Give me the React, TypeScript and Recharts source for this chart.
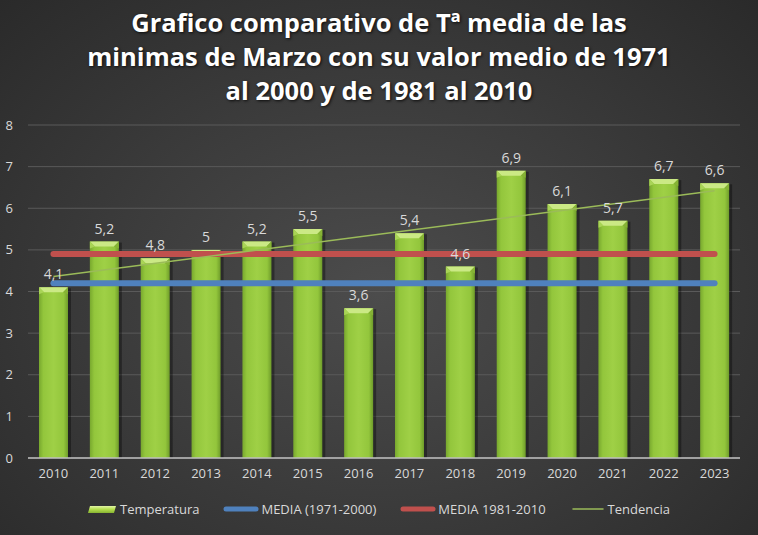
import React from "react";
import {
  ComposedChart,
  Bar,
  Line,
  XAxis,
  YAxis,
  CartesianGrid,
  Legend,
  LabelList,
} from "recharts";

const years = ["2010", "2011", "2012", "2013", "2014", "2015", "2016", "2017", "2018", "2019", "2020", "2021", "2022", "2023"];
const temperatura = [4.1, 5.2, 4.8, 5, 5.2, 5.5, 3.6, 5.4, 4.6, 6.9, 6.1, 5.7, 6.7, 6.6];
const media7100 = [4.2, 4.2, 4.2, 4.2, 4.2, 4.2, 4.2, 4.2, 4.2, 4.2, 4.2, 4.2, 4.2, 4.2];
const media8110 = [4.9, 4.9, 4.9, 4.9, 4.9, 4.9, 4.9, 4.9, 4.9, 4.9, 4.9, 4.9, 4.9, 4.9];
// trend line read at its two ends only, drawn straight between them
const tendencia = [4.36, null, null, null, null, null, null, null, null, null, null, null, null, 6.42];
const yTicks = [0, 1, 2, 3, 4, 5, 6, 7, 8];

const data = years.map((year, i) => ({
  year,
  temp: temperatura[i],
  m1: media7100[i],
  m2: media8110[i],
  trend: tendencia[i],
}));

const FONT = "'Open Sans', 'DejaVu Sans', sans-serif";
const TEXT = "#d9d9d9";

const fmt = (v: any) => String(v).replace(".", ",");

function BevelBar(props: any) {
  const { x, y, width, height } = props;
  if (!height || height <= 0) return null;
  const b = Math.min(5, height / 2);
  return (
    <g>
      <rect x={x + 1.5} y={y + 1} width={width + 1.5} height={height - 1} fill="rgba(0,0,0,0.35)" />
      <rect x={x} y={y} width={width} height={height} fill="url(#barGrad)" />
      <polygon
        points={`${x},${y} ${x + width},${y} ${x + width - b},${y + b} ${x + b},${y + b}`}
        fill="#cbe985"
      />
      <polygon points={`${x},${y} ${x + b},${y + b} ${x},${y + b + 2}`} fill="#a9d456" />
      <polygon points={`${x + width},${y} ${x + width - b},${y + b} ${x + width},${y + b + 2}`} fill="#86b335" />
    </g>
  );
}

function LegendIcon({ kind }: { kind: string }) {
  if (kind === "bar") {
    return (
      <svg width={28} height={10} style={{ marginRight: 4 }}>
        <defs>
          <linearGradient id="legGrad" x1="0" y1="0" x2="0" y2="1">
            <stop offset="0%" stopColor="#e3f5a6" />
            <stop offset="45%" stopColor="#b7e04f" />
            <stop offset="100%" stopColor="#86b331" />
          </linearGradient>
        </defs>
        <polygon points="2,2 28,2 26,9 0,9" fill="url(#legGrad)" />
      </svg>
    );
  }
  const color = kind === "blue" ? "#4f81bd" : kind === "red" ? "#c0504d" : "#9bbb59";
  const w = kind === "trend" ? 1.5 : 5;
  return (
    <svg width={36} height={10} style={{ marginRight: 2 }}>
      <line x1={3} y1={5} x2={33} y2={5} stroke={color} strokeWidth={w} strokeLinecap="round" />
    </svg>
  );
}

function CustomLegend() {
  const items = [
    { kind: "bar", label: "Temperatura" },
    { kind: "blue", label: "MEDIA (1971-2000)" },
    { kind: "red", label: "MEDIA 1981-2010" },
    { kind: "trend", label: "Tendencia" },
  ];
  return (
    <div style={{ display: "flex", justifyContent: "center", alignItems: "center", fontFamily: FONT, fontSize: 13, color: TEXT }}>
      {items.map((it) => (
        <div key={it.label} style={{ display: "flex", alignItems: "center", margin: "0 12px" }}>
          <LegendIcon kind={it.kind} />
          <span>{it.label}</span>
        </div>
      ))}
    </div>
  );
}

export default function App() {
  return (
    <div
      style={{
        position: "absolute",
        left: 0,
        top: 0,
        width: 758,
        height: 535,
        overflow: "hidden",
        background: "radial-gradient(ellipse at 50% 55%, #4c4c4c 0%, #3d3d3d 45%, #2a2a2a 100%)",
      }}
    >
      <div
        style={{
          position: "absolute",
          top: 5,
          left: 0,
          width: 758,
          textAlign: "center",
          fontFamily: FONT,
          fontWeight: 700,
          fontSize: 25.5,
          lineHeight: "34px",
          color: "#ffffff",
          textShadow: "1px 1px 3px rgba(0,0,0,0.8)",
        }}
      >
        Grafico comparativo de Tª media de las
        <br />
        minimas de Marzo con su valor medio de 1971
        <br />
        al 2000 y de 1981 al 2010
      </div>
      <ComposedChart
        width={758}
        height={535}
        data={data}
        margin={{ top: 125, right: 18, left: 0, bottom: 27 }}
        style={{ position: "absolute", left: 0, top: 0 }}
      >
        <defs>
          <linearGradient id="barGrad" x1="0" y1="0" x2="1" y2="0">
            <stop offset="0%" stopColor="#78a82e" />
            <stop offset="15%" stopColor="#93c63c" />
            <stop offset="50%" stopColor="#9fd046" />
            <stop offset="85%" stopColor="#93c63c" />
            <stop offset="100%" stopColor="#6f9c2a" />
          </linearGradient>
        </defs>
        <CartesianGrid vertical={false} stroke="#5a5a5a" strokeWidth={1} />
        <XAxis
          dataKey="year"
          height={30}
          axisLine={{ stroke: "#bfbfbf", strokeWidth: 1.5 }}
          tickLine={false}
          tickSize={0}
          tickMargin={11}
          tick={{ fill: TEXT, fontSize: 13, fontFamily: FONT }}
          interval={0}
        />
        <YAxis
          width={28}
          domain={[0, 8]}
          ticks={yTicks}
          axisLine={false}
          tickLine={false}
          tickSize={0}
          tickMargin={15}
          tick={{ fill: TEXT, fontSize: 13, fontFamily: FONT }}
        />
        <Legend
          verticalAlign="bottom"
          content={() => <CustomLegend />}
          wrapperStyle={{ position: "absolute", top: 500, left: 0, width: 758, height: 20 }}
        />
        <Bar dataKey="temp" name="Temperatura" barSize={29} shape={<BevelBar />} isAnimationActive={false}>
          <LabelList
            dataKey="temp"
            position="top"
            offset={8}
            formatter={fmt}
            style={{ fill: TEXT, fontSize: 14, fontFamily: FONT }}
          />
        </Bar>
        <Line
          dataKey="m1"
          name="MEDIA (1971-2000)"
          stroke="#4f81bd"
          strokeWidth={6}
          strokeLinecap="round"
          dot={false}
          activeDot={false}
          isAnimationActive={false}
        />
        <Line
          dataKey="m2"
          name="MEDIA 1981-2010"
          stroke="#c0504d"
          strokeWidth={6}
          strokeLinecap="round"
          dot={false}
          activeDot={false}
          isAnimationActive={false}
        />
        <Line
          dataKey="trend"
          name="Tendencia"
          stroke="#9bbb59"
          strokeWidth={1.5}
          connectNulls
          dot={false}
          activeDot={false}
          isAnimationActive={false}
        />
      </ComposedChart>
    </div>
  );
}
